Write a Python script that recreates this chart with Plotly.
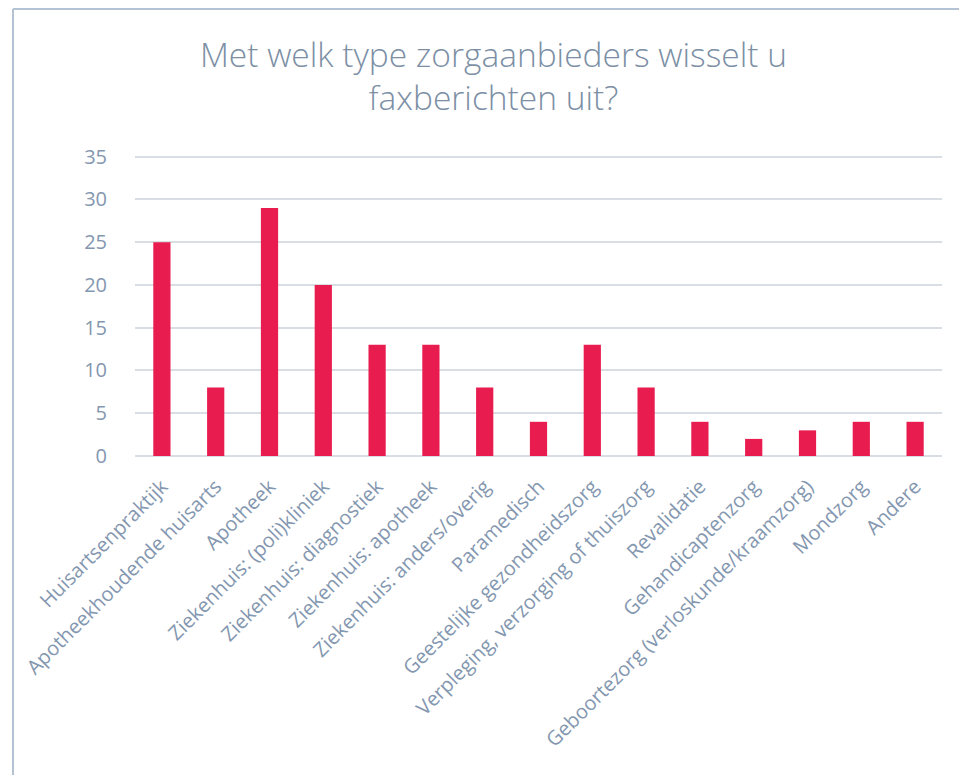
import plotly.graph_objects as go

categories = [
    "Huisartsenpraktijk",
    "Apotheekhoudende huisarts",
    "Apotheek",
    "Ziekenhuis: (poli)kliniek",
    "Ziekenhuis: diagnostiek",
    "Ziekenhuis: apotheek",
    "Ziekenhuis: anders/overig",
    "Paramedisch",
    "Geestelijke gezondheidszorg",
    "Verpleging, verzorging of thuiszorg",
    "Revalidatie",
    "Gehandicaptenzorg",
    "Geboortezorg (verloskunde/kraamzorg)",
    "Mondzorg",
    "Andere",
]
values = [25, 8, 29, 20, 13, 13, 8, 4, 13, 8, 4, 2, 3, 4, 4]
y_ticks = [0, 5, 10, 15, 20, 25, 30, 35]

title_text = "Met welk type zorgaanbieders wisselt u<br>faxberichten uit?"

BAR = "#E81C4F"
TXT = "#8497B0"
GRID = "#D9DEE4"
BORDER = "#B4C3D3"

ML, MR, MT, MB = 127, 33, 147, 327

fig = go.Figure(
    go.Bar(x=categories, y=values, marker=dict(color=BAR, line=dict(width=0)))
)

fig.update_layout(
    width=967,
    height=775,
    margin=dict(l=ML, r=MR, t=MT, b=MB),
    paper_bgcolor="white",
    plot_bgcolor="white",
    bargap=0.68,
    showlegend=False,
    font=dict(family="Open Sans", color=TXT),
    title=dict(
        text=title_text,
        x=0.502,
        xanchor="center",
        y=1 - 58.5 / 775,
        yanchor="middle",
        font=dict(family="Open Sans", size=33.5, color="#7C8FA5", weight=300),
    ),
    xaxis=dict(
        tickangle=-45,
        tickfont=dict(size=20, color=TXT),
        showgrid=False,
        showline=False,
        ticks="",
        ticklabelstandoff=14,
    ),
    yaxis=dict(
        range=[0, 35.2],
        tickvals=y_ticks,
        tickfont=dict(size=20, color=TXT),
        showgrid=True,
        gridcolor=GRID,
        gridwidth=1.5,
        zeroline=True,
        zerolinecolor=GRID,
        zerolinewidth=1.5,
        ticks="",
        ticklabelstandoff=27,
    ),
)

# outer chart-area border (left and top edges visible)
px_w = 967 - ML - MR
px_h = 775 - MT - MB
bx = (5 - ML) / px_w
by = 1 + (MT - 1) / px_h
fig.add_shape(type="line", xref="paper", yref="paper",
              x0=bx, x1=bx, y0=by, y1=-2, line=dict(color=BORDER, width=2))
fig.add_shape(type="line", xref="paper", yref="paper",
              x0=bx, x1=1.2, y0=by, y1=by, line=dict(color=BORDER, width=2))

fig.write_html("out.html")
